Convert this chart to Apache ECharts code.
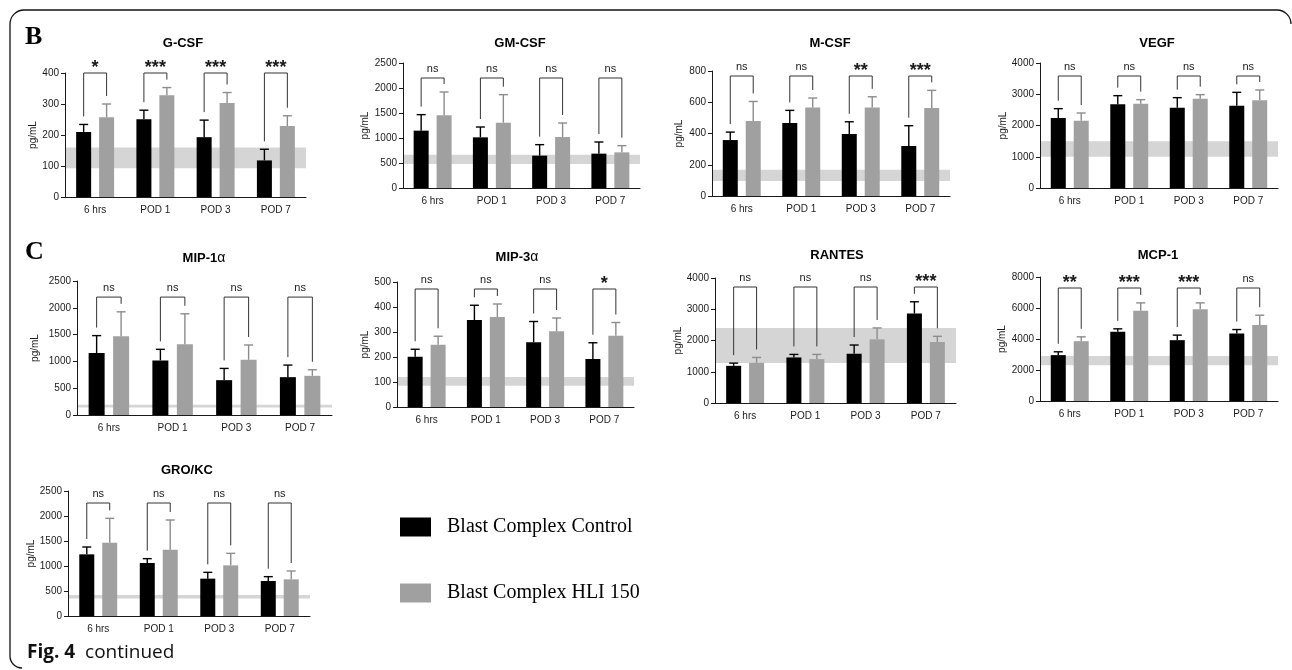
<!DOCTYPE html>
<html><head><meta charset="utf-8">
<script src="https://cdn.jsdelivr.net/npm/echarts@6/dist/echarts.min.js"></script>
<style>html,body{margin:0;padding:0;background:#fff}#c{width:1292px;height:670px}</style>
</head><body><div id="c"></div>
<script>
// ---------- data ----------
const categories = ['6 hrs', 'POD 1', 'POD 3', 'POD 7'];
const seriesNames = ['Blast Complex Control', 'Blast Complex HLI 150'];

const gcsfControl = [210, 251, 193, 118];
const gcsfControlErr = [234, 280, 248, 154];
const gcsfHli = [257, 328, 303, 229];
const gcsfHliErr = [300, 353, 337, 262];
const gcsfBand = [93, 160];
const gcsfSig = ['*', '***', '***', '***'];

const gmcsfControl = [1147, 1013, 647, 687];
const gmcsfControlErr = [1467, 1220, 867, 920];
const gmcsfHli = [1453, 1307, 1020, 713];
const gmcsfHliErr = [1920, 1867, 1300, 847];
const gmcsfBand = [480, 667];
const gmcsfSig = ['ns', 'ns', 'ns', 'ns'];

const mcsfControl = [358, 467, 397, 320];
const mcsfControlErr = [409, 548, 475, 450];
const mcsfHli = [480, 567, 567, 563];
const mcsfHliErr = [605, 627, 635, 676];
const mcsfBand = [96, 168];
const mcsfSig = ['ns', 'ns', '**', '***'];

const vegfControl = [2240, 2677, 2571, 2635];
const vegfControlErr = [2539, 2955, 2891, 3061];
const vegfHli = [2155, 2699, 2859, 2805];
const vegfHliErr = [2400, 2827, 2987, 3136];
const vegfBand = [1000, 1500];
const vegfSig = ['ns', 'ns', 'ns', 'ns'];

const mip1aControl = [1156, 1019, 650, 706];
const mip1aControlErr = [1481, 1225, 869, 931];
const mip1aHli = [1469, 1319, 1031, 731];
const mip1aHliErr = [1925, 1888, 1306, 844];
const mip1aBand = [140, 190];
const mip1aSig = ['ns', 'ns', 'ns', 'ns'];

const mip3aControl = [201, 348, 259, 192];
const mip3aControlErr = [231, 407, 342, 257];
const mip3aHli = [249, 360, 303, 285];
const mip3aHliErr = [283, 412, 356, 338];
const mip3aBand = [85, 120];
const mip3aSig = ['ns', 'ns', 'ns', '*'];

const rantesControl = [1190, 1458, 1576, 2863];
const rantesControlErr = [1276, 1555, 1855, 3239];
const rantesHli = [1287, 1405, 2037, 1952];
const rantesHliErr = [1458, 1555, 2402, 2134];
const rantesBand = [1280, 2400];
const rantesSig = ['ns', 'ns', 'ns', '***'];

const mcp1Control = [2960, 4460, 3925, 4355];
const mcp1ControlErr = [3175, 4655, 4250, 4610];
const mcp1Hli = [3860, 5815, 5920, 4910];
const mcp1HliErr = [4140, 6330, 6330, 5535];
const mcp1Band = [2300, 2900];
const mcp1Sig = ['**', '***', '***', 'ns'];

const grokcControl = [1233, 1060, 747, 700];
const grokcControlErr = [1380, 1147, 873, 787];
const grokcHli = [1467, 1327, 1013, 733];
const grokcHliErr = [1953, 1920, 1253, 900];
const grokcBand = [350, 420];
const grokcSig = ['ns', 'ns', 'ns', 'ns'];

// y axis tick settings (max, step) and bracket levels (data units)
const yMaxes = [400, 2500, 800, 4000, 2500, 500, 4000, 8000, 2500];
const ySteps = [100, 500, 200, 1000, 500, 100, 1000, 2000, 500];
const bracketLevels = [400, 2200, 768, 3584, 2200, 472, 3712, 7290, 2260];

// ---------- assembly ----------
const panels = [
  {title: ['G-CSF'], c: gcsfControl, ce: gcsfControlErr, h: gcsfHli, he: gcsfHliErr, band: gcsfBand, sig: gcsfSig},
  {title: ['GM-CSF'], c: gmcsfControl, ce: gmcsfControlErr, h: gmcsfHli, he: gmcsfHliErr, band: gmcsfBand, sig: gmcsfSig},
  {title: ['M-CSF'], c: mcsfControl, ce: mcsfControlErr, h: mcsfHli, he: mcsfHliErr, band: mcsfBand, sig: mcsfSig},
  {title: ['VEGF'], c: vegfControl, ce: vegfControlErr, h: vegfHli, he: vegfHliErr, band: vegfBand, sig: vegfSig},
  {title: ['MIP-1', 'α'], c: mip1aControl, ce: mip1aControlErr, h: mip1aHli, he: mip1aHliErr, band: mip1aBand, sig: mip1aSig},
  {title: ['MIP-3', 'α'], c: mip3aControl, ce: mip3aControlErr, h: mip3aHli, he: mip3aHliErr, band: mip3aBand, sig: mip3aSig},
  {title: ['RANTES'], c: rantesControl, ce: rantesControlErr, h: rantesHli, he: rantesHliErr, band: rantesBand, sig: rantesSig},
  {title: ['MCP-1'], c: mcp1Control, ce: mcp1ControlErr, h: mcp1Hli, he: mcp1HliErr, band: mcp1Band, sig: mcp1Sig},
  {title: ['GRO/KC'], c: grokcControl, ce: grokcControlErr, h: grokcHli, he: grokcHliErr, band: grokcBand, sig: grokcSig}
];

const layout = [
  {left: 65, top: 73, width: 241, height: 124, nameGap: 25, tx: 183, ty: 43, barW: 15},
  {left: 403, top: 63, width: 237, height: 125, nameGap: 33, tx: 520, ty: 43, barW: 15},
  {left: 712, top: 71, width: 238, height: 125, nameGap: 28, tx: 830, ty: 43, barW: 15},
  {left: 1040, top: 63, width: 238, height: 125, nameGap: 31, tx: 1157, ty: 43, barW: 15},
  {left: 77, top: 281, width: 255, height: 134, nameGap: 37, tx: 204, ty: 258, barW: 16},
  {left: 397, top: 282, width: 237, height: 125, nameGap: 27, tx: 517, ty: 257, barW: 15},
  {left: 715, top: 278, width: 241, height: 125, nameGap: 30, tx: 837, ty: 255, barW: 15},
  {left: 1040, top: 277, width: 238, height: 124, nameGap: 33, tx: 1158, ty: 255, barW: 15},
  {left: 68, top: 491, width: 242, height: 125, nameGap: 29, tx: 187, ty: 470, barW: 15}
];

const BLACK = '#000000', GRAY = '#a0a0a0', BAND = '#d5d5d5', AXIS = '#1a1a1a', TXT = '#1a1a1a';
const FONT = 'Liberation Sans, Arial, sans-serif';
const GAP = 0.53;

const grids = [], xAxes = [], yAxes = [], series = [], graphics = [];

function errRender(sign, color, barW) {
  return function (params, api) {
    const i = api.value(0);
    const base = api.coord([i, api.value(1)]);
    const top = api.coord([i, api.value(2)]);
    const x = base[0] + sign * barW * (1 + GAP) / 2;
    return {type: 'group', children: [
      {type: 'line', shape: {x1: x, y1: base[1], x2: x, y2: top[1]}, style: {stroke: color, lineWidth: 1.4}},
      {type: 'line', shape: {x1: x - 4.5, y1: top[1], x2: x + 4.5, y2: top[1]}, style: {stroke: color, lineWidth: 1.4}}
    ]};
  };
}

panels.forEach((p, k) => {
  const L = layout[k];
  grids.push({left: L.left, top: L.top, width: L.width, height: L.height, containLabel: false});
  xAxes.push({
    type: 'category', gridIndex: k, data: categories, z: 5,
    axisLine: {lineStyle: {color: AXIS, width: 1}},
    axisTick: {alignWithLabel: true, length: 4, lineStyle: {color: AXIS}},
    axisLabel: {interval: 0, fontSize: 10, color: TXT, margin: 8, fontFamily: FONT}
  });
  yAxes.push({
    type: 'value', gridIndex: k, min: 0, max: yMaxes[k], interval: ySteps[k], z: 5,
    axisLine: {show: true, lineStyle: {color: AXIS, width: 1}},
    axisTick: {show: true, length: 4, lineStyle: {color: AXIS}},
    axisLabel: {fontSize: 10, color: TXT, margin: 6, fontFamily: FONT, formatter: v => String(v)},
    splitLine: {show: false},
    name: 'pg/mL', nameLocation: 'middle', nameRotate: 90, nameGap: L.nameGap,
    nameTextStyle: {fontSize: 10, color: TXT, fontFamily: FONT}
  });
  series.push({
    type: 'custom', xAxisIndex: k, yAxisIndex: k, z: 1, silent: true, animation: false,
    data: [[0, p.band[0], p.band[1]]],
    renderItem: function (params, api) {
      const cs = params.coordSys;
      const y0 = api.coord([0, api.value(1)])[1];
      const y1 = api.coord([0, api.value(2)])[1];
      return {type: 'rect', shape: {x: cs.x, y: y1, width: cs.width, height: y0 - y1}, style: {fill: BAND}};
    }
  });
  series.push({
    type: 'bar', name: seriesNames[0], xAxisIndex: k, yAxisIndex: k, data: p.c,
    barWidth: L.barW, barGap: (GAP * 100) + '%', itemStyle: {color: BLACK}, z: 2, silent: true, animation: false
  });
  series.push({
    type: 'bar', name: seriesNames[1], xAxisIndex: k, yAxisIndex: k, data: p.h,
    barWidth: L.barW, barGap: (GAP * 100) + '%', itemStyle: {color: GRAY}, z: 2, silent: true, animation: false
  });
  series.push({
    type: 'custom', xAxisIndex: k, yAxisIndex: k, z: 3, silent: true, animation: false,
    data: categories.map((_, i) => [i, p.c[i], p.ce[i]]), renderItem: errRender(-1, BLACK, L.barW)
  });
  series.push({
    type: 'custom', xAxisIndex: k, yAxisIndex: k, z: 3, silent: true, animation: false,
    data: categories.map((_, i) => [i, p.h[i], p.he[i]]), renderItem: errRender(1, '#8c8c8c', L.barW)
  });
  const sig = p.sig;
  series.push({
    type: 'custom', xAxisIndex: k, yAxisIndex: k, z: 4, silent: true, animation: false, clip: false,
    data: categories.map((_, i) => [i, bracketLevels[k], p.ce[i], p.he[i]]),
    renderItem: function (params, api) {
      const i = api.value(0);
      const c = api.coord([i, api.value(1)]);
      const off = L.barW * (1 + GAP) / 2;
      const xl = c[0] - off, xr = c[0] + off, yb = c[1];
      const yl = api.coord([i, api.value(2)])[1] - 8;
      const yr = api.coord([i, api.value(3)])[1] - 8;
      const s = sig[params.dataIndex];
      const star = s !== 'ns';
      return {type: 'group', children: [
        {type: 'polyline', shape: {points: [[xl, yl], [xl, yb], [xr, yb], [xr, yr]]},
          style: {stroke: '#333', lineWidth: 1, fill: null}},
        {type: 'text', style: {text: s, x: c[0], y: star ? yb - 5 : yb - 9,
          textAlign: 'center', textVerticalAlign: 'middle',
          font: star ? 'bold 18px ' + FONT : '11px ' + FONT, fill: TXT}}
      ]};
    }
  });
  const t = p.title;
  graphics.push({
    type: 'text', x: L.tx, y: L.ty, silent: true,
    style: {
      text: t.length > 1 ? '{b|' + t[0] + '}{a|' + t[1] + '}' : '{b|' + t[0] + '}',
      textAlign: 'center', textVerticalAlign: 'middle',
      rich: {b: {font: 'bold 13px ' + FONT, fill: '#000'}, a: {font: '14px ' + FONT, fill: '#000'}}
    }
  });
});

graphics.push({type: 'text', x: 25, y: 37, silent: true,
  style: {text: 'B', font: 'bold 26px Liberation Serif, Times New Roman, serif', fill: '#000', textVerticalAlign: 'middle'}});
graphics.push({type: 'text', x: 25, y: 252, silent: true,
  style: {text: 'C', font: 'bold 26px Liberation Serif, Times New Roman, serif', fill: '#000', textVerticalAlign: 'middle'}});
graphics.push({type: 'text', x: 27, y: 653, silent: true,
  style: {text: '{b|Fig. 4}{r|  continued}', textVerticalAlign: 'middle',
    rich: {b: {font: 'bold 19px Open Sans, Noto Sans, sans-serif', fill: '#111'},
      r: {font: '19px Open Sans, Noto Sans, sans-serif', fill: '#111'}}}});
const FR = {stroke: '#111', lineWidth: 1.3, fill: null};
graphics.push({type: 'line', silent: true, shape: {x1: 24, y1: 10, x2: 1277, y2: 10}, style: FR});
graphics.push({type: 'line', silent: true, shape: {x1: 10, y1: 24, x2: 10, y2: 656}, style: FR});
graphics.push({type: 'arc', silent: true, shape: {cx: 24, cy: 24, r: 14, startAngle: Math.PI, endAngle: Math.PI * 1.5, clockwise: true}, style: FR});
graphics.push({type: 'arc', silent: true, shape: {cx: 1277, cy: 24, r: 14, startAngle: Math.PI * 1.5, endAngle: Math.PI * 2, clockwise: true}, style: FR});
graphics.push({type: 'arc', silent: true, shape: {cx: 22, cy: 656, r: 12, startAngle: Math.PI / 2, endAngle: Math.PI, clockwise: true}, style: FR});

const chart = echarts.init(document.getElementById('c'), null, {renderer: 'canvas'});
chart.setOption({
  animation: false,
  backgroundColor: '#ffffff',
  grid: grids, xAxis: xAxes, yAxis: yAxes, series: series, graphic: graphics,
  legend: {
    data: seriesNames, left: 395, top: 512, orient: 'vertical', icon: 'rect',
    itemWidth: 31, itemHeight: 19, itemGap: 46, selectedMode: false,
    textStyle: {fontFamily: 'Liberation Serif, Times New Roman, serif', fontSize: 20, color: '#000', padding: [0, 0, 0, 11]}
  }
});
</script></body></html>
